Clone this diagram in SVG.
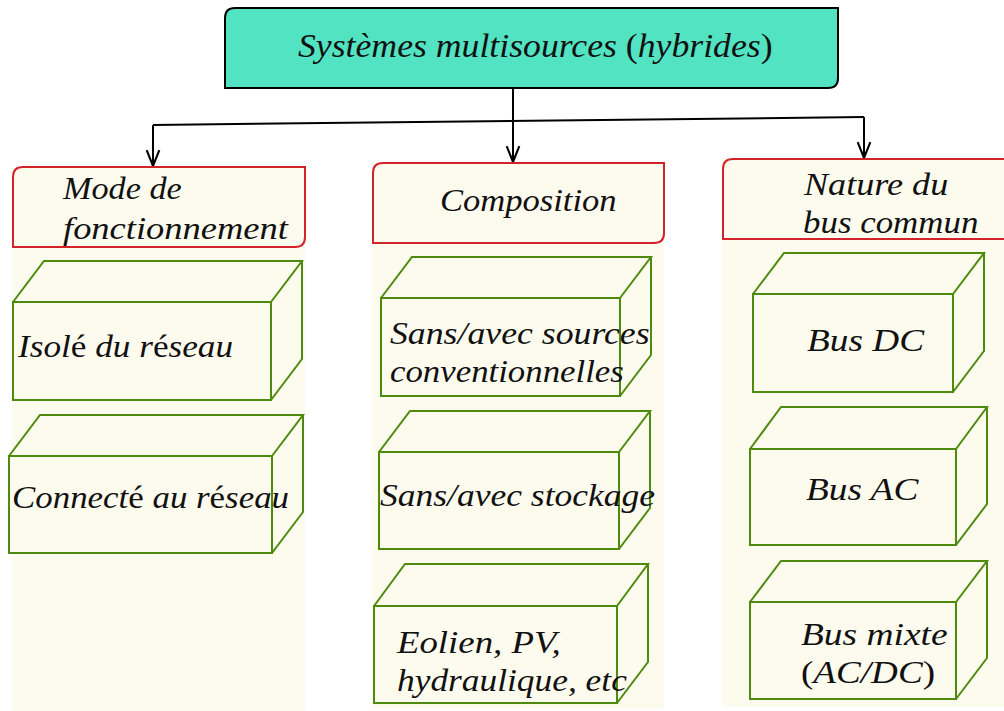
<svg xmlns="http://www.w3.org/2000/svg" width="1004" height="711" viewBox="0 0 1004 711">
<style>
.bg{fill:#FDFBEE;stroke:none}
.hdr{fill:#FDFBEE;stroke:#D2232A;stroke-width:2}
.box{fill:#FDFBEE;stroke:#4E8A0E;stroke-width:2;stroke-linejoin:miter}
.con{fill:none;stroke:#000;stroke-width:2}
</style>
<defs>
<marker id="arr" markerUnits="userSpaceOnUse" markerWidth="20" markerHeight="20" viewBox="-17 -8 19 16" refX="0" refY="0" orient="auto">
<path d="M-15,-6 L0,0 L-15,6" fill="none" stroke="#000" stroke-width="2"/>
</marker>
</defs>
<rect width="1004" height="711" fill="#fff"/>
<g id="backgrounds">
<rect class="bg" x="12" y="167" width="293" height="544"/>
<rect class="bg" x="372" y="163" width="292" height="546"/>
<rect class="bg" x="722" y="158" width="282" height="549"/>
</g>
<g id="root">
<path d="M225,88 V18 Q225,8 235,8 H838 V78 Q838,88 828,88 Z" fill="#52E3C2" stroke="#000" stroke-width="2"/>
<text font-family="'Liberation Serif', serif" font-style="italic" font-size="34" fill="#111" transform="translate(298,57) scale(1.05,1)">Systèmes multisources <tspan font-style="normal">(</tspan>hybrides<tspan font-style="normal">)</tspan></text>
</g>
<g id="connectors">
<path class="con" d="M153,125 L864,117"/>
<path class="con" d="M153,125 V166" marker-end="url(#arr)"/>
<path class="con" d="M864,117 V158" marker-end="url(#arr)"/>
<path class="con" d="M513,88 V162" marker-end="url(#arr)"/>
</g>
<g font-family="'Liberation Serif', serif" font-style="italic" font-size="32" fill="#111">
<g id="h-mode">
<path class="hdr" d="M13,247 V177 Q13,167 23,167 H305 V237 Q305,247 295,247 Z"/>
<text transform="translate(63,199) scale(1.07,1)">Mode de</text>
<text transform="translate(63,239) scale(1.14,1)">fonctionnement</text>
</g>
<g id="h-composition">
<path class="hdr" d="M373,243 V173 Q373,163 383,163 H664 V233 Q664,243 654,243 Z"/>
<text transform="translate(440,211) scale(1.08,1)">Composition</text>
</g>
<g id="h-nature">
<path class="hdr" d="M723,239 V169 Q723,159 733,159 H1006 V239 Z"/>
<text transform="translate(804,195) scale(1.13,1)">Nature du</text>
<text transform="translate(803,233) scale(1.09,1)">bus commun</text>
</g>
<g id="b-isole">
<path class="box" d="M13,302 H271 V400 H13 Z M13,302 L44,261 H302 L271,302 M302,261 V359 L271,400"/>
<text transform="translate(18,357) scale(1.1,1)">Isol<tspan font-style="normal">é</tspan> du r<tspan font-style="normal">é</tspan>seau</text>
</g>
<g id="b-connecte">
<path class="box" d="M9,456 H272 V553 H9 Z M9,456 L40,415 H303 L272,456 M303,415 V512 L272,553"/>
<text transform="translate(12,508) scale(1.09,1)">Connect<tspan font-style="normal">é</tspan> au r<tspan font-style="normal">é</tspan>seau</text>
</g>
<g id="b-sources">
<path class="box" d="M381,298 H620 V396 H381 Z M381,298 L412,257 H651 L620,298 M651,257 V355 L620,396"/>
<text transform="translate(390,344) scale(1.117,1)">Sans/avec sources</text>
<text transform="translate(390,382) scale(1.088,1)">conventionnelles</text>
</g>
<g id="b-stockage">
<path class="box" d="M379,452 H619 V549 H379 Z M379,452 L410,411 H650 L619,452 M650,411 V508 L619,549"/>
<text transform="translate(380,506) scale(1.11,1)">Sans/avec stockage</text>
</g>
<g id="b-eolien">
<path class="box" d="M374,606 H617 V703 H374 Z M374,606 L405,564 H648 L617,606 M648,564 V662 L617,703"/>
<text transform="translate(397,653) scale(1.15,1)">Eolien, PV,</text>
<text transform="translate(397,691) scale(1.106,1)">hydraulique, etc</text>
</g>
<g id="b-busdc">
<path class="box" d="M753,294 H953 V392 H753 Z M753,294 L784,253 H984 L953,294 M984,253 V351 L953,392"/>
<text transform="translate(807,351) scale(1.165,1)">Bus DC</text>
</g>
<g id="b-busac">
<path class="box" d="M750,449 H956 V545 H750 Z M750,449 L781,407 H987 L956,449 M987,407 V504 L956,545"/>
<text transform="translate(806,500) scale(1.166,1)">Bus AC</text>
</g>
<g id="b-busmixte">
<path class="box" d="M750,602 H956 V699 H750 Z M750,602 L781,561 H987 L956,602 M987,561 V658 L956,699"/>
<text transform="translate(801,645) scale(1.17,1)">Bus mixte</text>
<text transform="translate(801,683) scale(1.16,1)"><tspan font-style="normal">(</tspan>AC/DC<tspan font-style="normal">)</tspan></text>
</g>
</g>
</svg>
